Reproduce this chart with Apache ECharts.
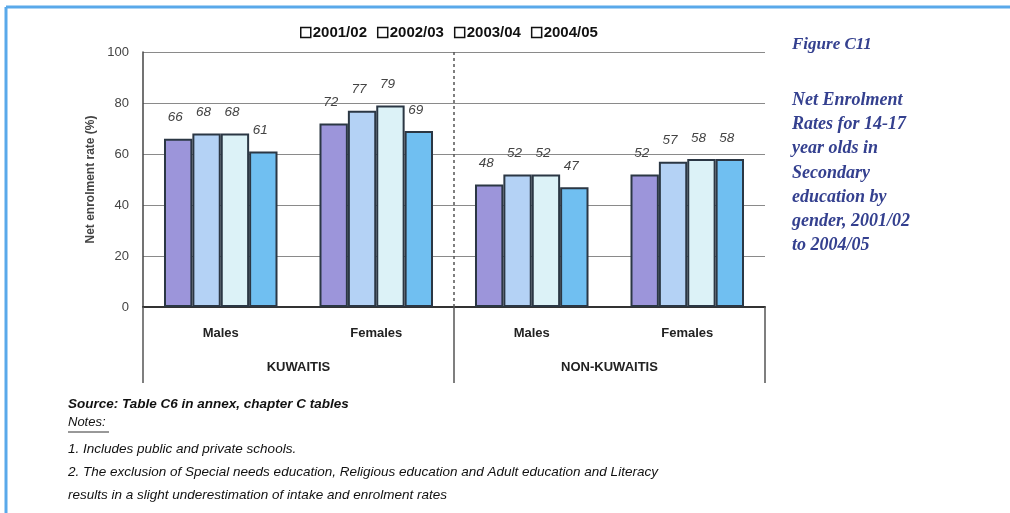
<!DOCTYPE html>
<html>
<head>
<meta charset="utf-8">
<script src="https://cdn.jsdelivr.net/npm/echarts@6/dist/echarts.min.js"></script>
<style>
  html, body { margin: 0; padding: 0; background: #ffffff; }
  #chart { width: 1010px; height: 513px; }
</style>
</head>
<body>
<div id="chart"></div>
<script>
// Net enrolment rates, 14-17 year olds, secondary education
const categories = ['Males', 'Females', 'Males', 'Females'];
const groups = ['KUWAITIS', 'NON-KUWAITIS'];
const years = ['2001/02', '2002/03', '2003/04', '2004/05'];
const y2001 = [66, 72, 48, 52];
const y2002 = [68, 77, 52, 57];
const y2003 = [68, 79, 52, 58];
const y2004 = [61, 69, 47, 58];
const yTicks = [0, 20, 40, 60, 80, 100];

const seriesValues = [y2001, y2002, y2003, y2004];
const barColors = ['#9c95da', '#b4d2f5', '#dcf2f7', '#70bff1'];
// categories per nationality group; the dashed divider sits after the first group
const perGroup = categories.length / groups.length;

const FONT = '"Liberation Sans", Arial, sans-serif';
const SERIF = '"Liberation Serif", "DejaVu Serif", serif';

const chart = echarts.init(document.getElementById('chart'));

const series = years.map((name, i) => ({
  name: name,
  type: 'bar',
  xAxisIndex: 0,
  data: seriesValues[i],
  barGap: '0%',
  barCategoryGap: '27%',
  itemStyle: { color: barColors[i], borderColor: '#2b3744', borderWidth: 2 },
  label: {
    show: true,
    position: 'top',
    distance: 14,
    offset: [-3, 0],
    fontFamily: FONT,
    fontStyle: 'italic',
    fontSize: 13.5,
    color: '#444'
  }
}));

// dashed divider between the two nationality groups
series.push({
  name: 'divider',
  type: 'line',
  xAxisIndex: 2,
  data: [],
  silent: true,
  markLine: {
    silent: true,
    symbol: 'none',
    label: { show: false },
    lineStyle: { color: '#555', width: 1.5, type: [3, 3] },
    data: [{ xAxis: perGroup }]
  }
});

const sideLines = [
  'Net Enrolment',
  'Rates for 14-17',
  'year olds in',
  'Secondary',
  'education by',
  'gender, 2001/02',
  'to 2004/05'
];

const graphic = [
  // page frame
  { type: 'line', shape: { x1: 6, y1: 7, x2: 1010, y2: 7 }, style: { stroke: '#5aa9ea', lineWidth: 3 } },
  { type: 'line', shape: { x1: 6, y1: 7, x2: 6, y2: 513 }, style: { stroke: '#5aa9ea', lineWidth: 3 } },
  // side caption
  { type: 'text', left: 792, top: 36, style: { text: 'Figure C11', font: 'italic bold 17px ' + SERIF, fill: '#34408f' } }
];
sideLines.forEach((t, i) => {
  graphic.push({ type: 'text', left: 792, top: 91 + i * 24.3, style: { text: t, font: 'italic bold 18px ' + SERIF, fill: '#34408f' } });
});
// source and notes
graphic.push(
  { type: 'text', left: 68, top: 397, style: { text: 'Source: Table C6 in annex, chapter C tables', font: 'italic bold 13.5px ' + FONT, fill: '#111' } },
  { type: 'text', left: 68, top: 416, style: { text: 'Notes:', font: 'italic 13px ' + FONT, fill: '#111' } },
  { type: 'line', shape: { x1: 68, y1: 432, x2: 109, y2: 432 }, style: { stroke: '#333', lineWidth: 1 } },
  { type: 'text', left: 68, top: 442, style: { text: '1. Includes public and private schools.', font: 'italic 13.5px ' + FONT, fill: '#111' } },
  { type: 'text', left: 68, top: 465, style: { text: '2. The exclusion of Special needs education, Religious education and Adult education and Literacy', font: 'italic 13.5px ' + FONT, fill: '#111' } },
  { type: 'text', left: 68, top: 488, style: { text: 'results in a slight underestimation of intake and enrolment rates', font: 'italic 13.5px ' + FONT, fill: '#111' } }
);

chart.setOption({
  animation: false,
  backgroundColor: '#ffffff',
  textStyle: { fontFamily: FONT },
  legend: {
    top: 20,
    left: 295,
    data: years,
    itemWidth: 10,
    itemHeight: 10,
    itemGap: 10,
    icon: 'rect',
    itemStyle: { color: '#ffffff', borderColor: '#111', borderWidth: 1.5 },
    textStyle: { fontFamily: FONT, fontSize: 15, fontWeight: 'bold', color: '#111', padding: [0, 0, 0, -3] }
  },
  grid: { left: 143, right: 245, top: 52, bottom: 206, containLabel: false },
  xAxis: [
    {
      type: 'category',
      data: categories,
      position: 'bottom',
      axisLine: { show: true, lineStyle: { color: '#333', width: 2 } },
      axisTick: { show: false },
      axisLabel: { margin: 20, fontFamily: FONT, fontSize: 13, fontWeight: 'bold', color: '#222' },
      splitLine: { show: false }
    },
    {
      type: 'category',
      data: groups,
      position: 'bottom',
      axisLine: { show: false },
      axisTick: { show: true, length: 76, lineStyle: { color: '#555', width: 1.5 } },
      axisLabel: { margin: 54, fontFamily: FONT, fontSize: 13, fontWeight: 'bold', color: '#222' },
      splitLine: { show: false }
    },
    {
      type: 'value',
      min: 0,
      max: categories.length,
      show: false
    }
  ],
  yAxis: {
    type: 'value',
    min: yTicks[0],
    max: yTicks[yTicks.length - 1],
    interval: yTicks[1] - yTicks[0],
    name: 'Net enrolment rate (%)',
    nameLocation: 'middle',
    nameGap: 46,
    nameTextStyle: { fontFamily: FONT, fontSize: 12, fontWeight: 'bold', color: '#444' },
    axisLine: { show: true, lineStyle: { color: '#444', width: 1.5 } },
    axisTick: { show: false },
    axisLabel: { margin: 14, fontFamily: FONT, fontSize: 13, color: '#444' },
    splitLine: { show: true, lineStyle: { color: '#8a8a8a', width: 1.2 } }
  },
  series: series,
  graphic: graphic
});
</script>
</body>
</html>
